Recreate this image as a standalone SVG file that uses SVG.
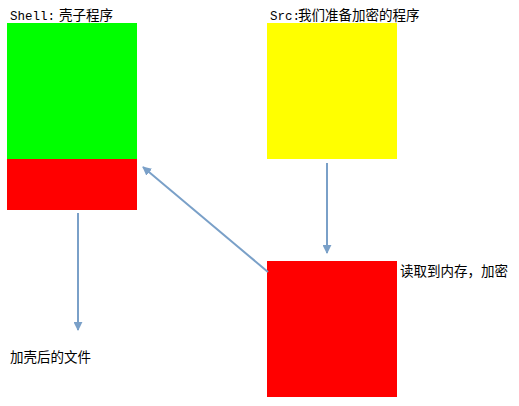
<svg xmlns="http://www.w3.org/2000/svg" width="519" height="406" viewBox="0 0 519 406">
<style>
.t{font-family:"Noto Sans CJK SC","Liberation Sans",sans-serif;font-size:13.5px;fill:#000}
.m{font-family:"Liberation Mono","Noto Sans CJK SC",monospace;font-size:12.5px}
.c{stroke:#7aa0c8;stroke-width:2;fill:none}
</style>
<defs>
<marker id="ah" viewBox="0 0 10 10" refX="9" refY="5" markerWidth="4.5" markerHeight="4.5" orient="auto" markerUnits="strokeWidth">
<path d="M0,0 L10,5 L0,10 z" fill="#7aa0c8"/>
</marker>
</defs>
<rect width="519" height="406" fill="#fff"/>
<g id="shell">
<rect x="7" y="23" width="130" height="136" fill="#00ff00"/>
<rect x="7" y="159" width="130" height="51" fill="#ff0000"/>
<text class="t" x="10" y="20"><tspan class="m">Shell:</tspan><tspan x="59">壳子程序</tspan></text>
</g>
<g id="src">
<rect x="267" y="23" width="130" height="136" fill="#ffff00"/>
<text class="t" x="270" y="20"><tspan class="m">Src:</tspan><tspan x="298">我们准备加密的程序</tspan></text>
</g>
<g id="mem">
<rect x="267" y="261" width="130" height="136" fill="#ff0000"/>
<text class="t" x="400" y="276">读取到内存，加密</text>
</g>
<g id="out">
<text class="t" x="10" y="362">加壳后的文件</text>
</g>
<g id="connectors">
<line class="c" x1="327" y1="163" x2="327" y2="253" marker-end="url(#ah)"/>
<line class="c" x1="78" y1="213" x2="78" y2="330" marker-end="url(#ah)"/>
<line class="c" x1="268" y1="272" x2="143" y2="167" marker-end="url(#ah)"/>
</g>
</svg>
